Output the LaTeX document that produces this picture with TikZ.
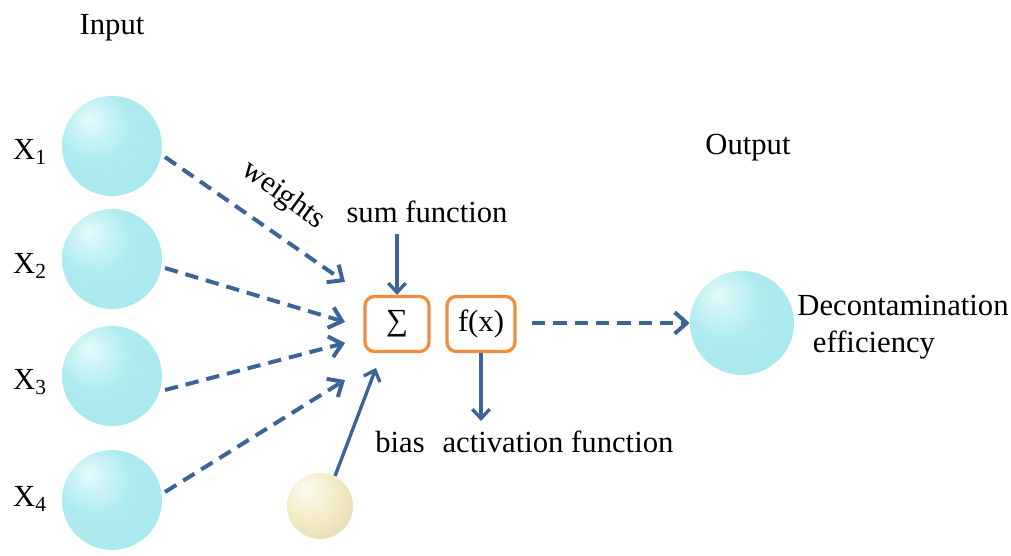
\documentclass[tikz,border=0pt]{standalone}
\usepackage{fontspec}
\setmainfont{Liberation Serif}
\usetikzlibrary{arrows.meta}
\definecolor{arrowblue}{HTML}{3C6496}
\definecolor{boxorange}{HTML}{F08C3C}
\definecolor{cyA}{HTML}{E4FBFC}
\definecolor{cyB}{HTML}{AEEBEF}
\definecolor{cyC}{HTML}{82D6DE}
\definecolor{crA}{HTML}{FDFBEE}
\definecolor{crB}{HTML}{F2EAC4}
\definecolor{crC}{HTML}{CFC08A}
\pgfdeclareradialshading{cyanball}{\pgfpoint{-12bp}{14bp}}{color(0bp)=(cyA); color(18bp)=(cyB); color(45bp)=(cyB!80!cyC); color(62bp)=(cyC)}
\pgfdeclareradialshading{creamball}{\pgfpoint{-12bp}{14bp}}{color(0bp)=(crA); color(22bp)=(crB); color(62bp)=(crC)}
\tikzset{
  inball/.style={circle, minimum size=100*0.75pt, inner sep=0pt, shading=cyanball},
  outball/.style={circle, minimum size=104*0.75pt, inner sep=0pt, shading=cyanball},
  biasball/.style={circle, minimum size=66*0.75pt, inner sep=0pt, shading=creamball},
  fbox/.style={draw=boxorange, line width=2.4pt, rounded corners=7pt, minimum width=64*0.75pt, minimum height=55*0.75pt, inner sep=0pt, font=\fontsize{23}{27}\selectfont},
  lbl/.style={font=\fontsize{23}{27}\selectfont, inner sep=0pt},
  dasharrow/.style={arrowblue, line width=3pt, dash pattern=on 10pt off 6pt, -{Straight Barb[length=9pt, width=16pt, line width=3pt]}},
  solidarrow/.style={arrowblue, line width=2.5pt, -{Straight Barb[length=7pt, width=13pt, line width=2.5pt]}},
}
\begin{document}
\begin{tikzpicture}[x=0.75pt,y=-0.75pt]
\useasboundingbox (0,0) rectangle (1011,556);
% input balls
\node[inball] (x1) at (112,146) {};
\node[inball] (x2) at (112,259) {};
\node[inball] (x3) at (112,376) {};
\node[inball] (x4) at (112,500) {};
\node[lbl] (l1) at (30,152) {X\textsubscript{1}};
\node[lbl] (l2) at (30,266) {X\textsubscript{2}};
\node[lbl] (l3) at (30,382) {X\textsubscript{3}};
\node[lbl] (l4) at (30,499) {X\textsubscript{4}};
\node[lbl] (input) at (112,28) {Input};
% boxes
\node[fbox] (sum) at (397,324) {\symbol{"2211}};
\node[fbox, minimum width=68*0.75pt] (fx) at (481,324) {f(x)};
% targets
\coordinate (t1) at (345,282);
\coordinate (t2) at (345,322);
\coordinate (t3) at (345,343);
\coordinate (t4) at (345,380);
\coordinate (s1) at (165,157);
\coordinate (s2) at (165,268);
\coordinate (s3) at (165,390);
\coordinate (s4) at (165,492);
\draw[dasharrow] (s1) -- (t1);
\draw[dasharrow] (s2) -- (t2);
\draw[dasharrow] (s3) -- (t3);
\draw[dasharrow] (s4) -- (t4);
\node[lbl, rotate=-36] (w) at (283,196) {weights};
% sum function
\node[lbl] (sumlbl) at (427,212) {sum function};
\draw[solidarrow] (397,234) -- (sum.north);
% bias
\node[biasball] (bias) at (320,506) {};
\coordinate (bt) at (376,368);
\coordinate (bs) at (335,476);
\draw[solidarrow] (bs) -- (bt);
\node[lbl] (biaslbl) at (400,442) {bias};
% activation
\node[lbl] (actlbl) at (558,442) {activation function};
\draw[solidarrow] (fx.south) -- (481,421);
% output
\node[outball] (out) at (742,323) {};
\coordinate (os) at (532,323);
\draw[dasharrow] (os) -- (out.west);
\node[lbl] (outlbl) at (748,148) {Output};
\node[lbl] (dec) at (903,305) {Decontamination};
\node[lbl] (eff) at (874,345) {efficiency};
\end{tikzpicture}
\end{document}
